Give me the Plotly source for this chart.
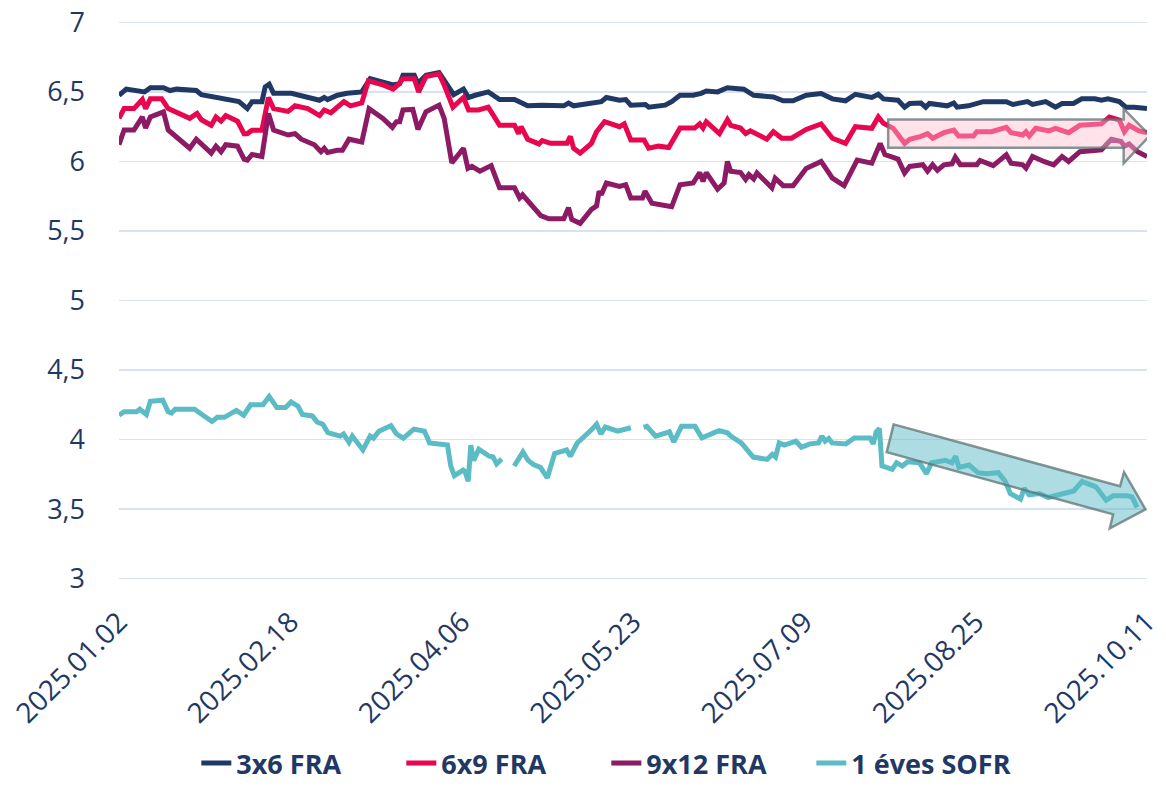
import plotly.graph_objects as go

# ---------------- data ----------------
tick_days = [0, 47, 94, 141, 188, 235, 282]
tick_labels = ["2025.01.02", "2025.02.18", "2025.04.06", "2025.05.23",
               "2025.07.09", "2025.08.25", "2025.10.11"]

# days since 2025.01.02
fra36_days = [0, 2, 7, 8.6, 12.2, 14, 15.8, 21.2, 22.6, 27.5, 31.1, 32.9, 35.2, 36.5, 39.2, 40.1,
              41.2, 42.4, 47.3, 50, 55, 56.3, 57.2, 59.9, 62.6, 66.6, 68.9, 75.2, 77, 77.9, 81, 82,
              84.2, 87.8, 89.6, 91.8, 94.5, 95.9, 97.7, 101.3, 104.4, 108.5, 112.1, 116.1, 122,
              123.3, 124.7, 129.2, 132.3, 133.7, 137.3, 139, 140.4, 144.4, 145.3, 149.8, 151.6,
              153.9, 157.5, 159.7, 161.1, 164.2, 166.9, 171.4, 174.1, 179.5, 182.2, 184.9, 188.5,
              192.6, 195.7, 199.3, 202, 206.5, 208.3, 209.7, 213.7, 215.5, 216.9, 220, 221.3,
              222.3, 227.2, 229, 229.9, 233, 237.1, 243.4, 245.2, 249.2, 250.6, 254.2, 256.9,
              258.7, 261.8, 264.1, 267.7, 269.5, 271.3, 274.4, 276.2, 278.5, 282]
fra36_vals = [6.476, 6.52, 6.50, 6.53, 6.53, 6.51, 6.52, 6.51, 6.48, 6.46, 6.445, 6.43, 6.38, 6.43,
              6.43, 6.535, 6.555, 6.49, 6.49, 6.47, 6.44, 6.46, 6.445, 6.476, 6.49, 6.50, 6.595,
              6.55, 6.56, 6.62, 6.62, 6.56, 6.62, 6.64, 6.57, 6.48, 6.52, 6.46, 6.476, 6.50, 6.445,
              6.445, 6.40, 6.405, 6.40, 6.42, 6.40, 6.42, 6.43, 6.46, 6.44, 6.445, 6.405, 6.41,
              6.39, 6.405, 6.43, 6.476, 6.476, 6.49, 6.507, 6.50, 6.53, 6.52, 6.476, 6.464, 6.436,
              6.436, 6.476, 6.488, 6.45, 6.436, 6.483, 6.46, 6.483, 6.45, 6.44, 6.39, 6.417, 6.42,
              6.39, 6.417, 6.40, 6.42, 6.39, 6.40, 6.43, 6.43, 6.41, 6.43, 6.41, 6.43, 6.39, 6.417,
              6.417, 6.45, 6.45, 6.44, 6.45, 6.43, 6.39, 6.39, 6.38]

fra69_days = [0, 1.4, 4.1, 6.4, 7.3, 8.6, 11.7, 13.5, 19.4, 21.4, 22.6, 25.3, 26.6, 28, 29.3,
              32.5, 34.3, 35.2, 36.5, 39.2, 41, 42.4, 46.4, 48.3, 51.8, 55, 56.3, 58.1, 61.7,
              63.5, 66.6, 68.4, 72.4, 75.2, 76.5, 77.9, 81, 82.2, 84.2, 87.8, 89.2, 91.6, 94.5,
              95.9, 98.6, 101.3, 104.4, 108.5, 109.6, 110.3, 112.1, 115.2, 116.1, 118.4, 122.9,
              123.8, 124.7, 126.5, 129.6, 131, 133.2, 137.3, 138.6, 140.4, 144, 145.3, 148, 150.8,
              153.9, 157.9, 159.3, 160.2, 161.1, 164.7, 166.9, 167.8, 170.5, 171.9, 173.2, 174.6,
              177.7, 179.5, 181.8, 184.5, 186.7, 188.5, 192.6, 195.7, 199.3, 202, 206.5, 208.3,
              209.7, 212.4, 215.5, 216.9, 220, 221.8, 223.2, 226.3, 229, 230.3, 234.4, 235.3,
              239.3, 243.4, 244.7, 247.9, 248.8, 249.7, 251.5, 255.1, 256.9, 260.5, 263.6, 269.5,
              271.7, 274.4, 275.8, 277.1, 279.8, 282]
fra69_vals = [6.31, 6.38, 6.38, 6.445, 6.38, 6.45, 6.45, 6.38, 6.31, 6.345, 6.30, 6.26, 6.32,
              6.29, 6.33, 6.29, 6.20, 6.20, 6.225, 6.225, 6.46, 6.38, 6.36, 6.40, 6.38, 6.33, 6.37,
              6.35, 6.43, 6.40, 6.42, 6.58, 6.55, 6.52, 6.55, 6.595, 6.595, 6.50, 6.61, 6.63, 6.55,
              6.39, 6.46, 6.37, 6.37, 6.39, 6.26, 6.26, 6.20, 6.25, 6.16, 6.126, 6.15, 6.13, 6.13,
              6.18, 6.095, 6.06, 6.13, 6.214, 6.286, 6.25, 6.27, 6.155, 6.155, 6.095, 6.11, 6.10,
              6.24, 6.24, 6.27, 6.24, 6.286, 6.20, 6.30, 6.26, 6.24, 6.20, 6.22, 6.20, 6.16, 6.214,
              6.167, 6.167, 6.20, 6.23, 6.27, 6.167, 6.13, 6.25, 6.238, 6.32, 6.274, 6.238, 6.13,
              6.16, 6.18, 6.20, 6.167, 6.207, 6.226, 6.183, 6.183, 6.214, 6.214, 6.245, 6.207,
              6.19, 6.214, 6.183, 6.238, 6.22, 6.238, 6.207, 6.26, 6.27, 6.32, 6.298, 6.214, 6.26,
              6.22, 6.207]

fra912_days = [0, 1.4, 4.1, 6.4, 7.3, 8.6, 12.2, 13.5, 19.4, 21.2, 25.3, 26.6, 28, 29.3, 32.5,
               34.3, 35.2, 36.5, 39.2, 41, 42.4, 46.4, 48.3, 50, 53.6, 55.4, 56.3, 57.2, 59.9,
               61.3, 63.1, 66.6, 68.6, 72.4, 75, 76.1, 77, 77.9, 80.6, 82, 84.2, 87.8, 89.2, 91.3,
               94.5, 95.7, 96.8, 99, 102.1, 104.4, 108.5, 109.9, 110.7, 112.1, 115.7, 117.9, 122,
               123.3, 124.2, 126.5, 129.6, 131, 131.7, 132.3, 133.7, 137.3, 139, 140.4, 143.6,
               144.3, 146.2, 151.6, 153.9, 157.5, 159.3, 160.2, 161.1, 164.2, 166, 166.9, 167.8,
               170.5, 171.9, 172.8, 174.1, 175, 179.1, 180, 182.2, 184.9, 186.3, 188.5, 192.6,
               195.7, 198.9, 202.5, 206.5, 208.8, 210.1, 213.7, 215.5, 216.9, 220.5, 221.8, 223.2,
               224.5, 226.3, 228.5, 229.4, 230.8, 235.3, 236.2, 239.8, 243.4, 244.7, 247.9, 248.8,
               250.6, 253.7, 256.4, 258.7, 260.5, 263.6, 267.7, 269.5, 272.2, 274.9, 275.8, 277.1,
               279.4, 282]
fra912_vals = [6.12, 6.226, 6.226, 6.32, 6.24, 6.32, 6.357, 6.226, 6.095, 6.16, 6.06, 6.11, 6.07,
               6.12, 6.11, 6.017, 6.01, 6.05, 6.036, 6.345, 6.226, 6.19, 6.20, 6.16, 6.12, 6.07,
               6.095, 6.064, 6.08, 6.08, 6.16, 6.14, 6.38, 6.31, 6.245, 6.286, 6.286, 6.37, 6.374,
               6.23, 6.357, 6.405, 6.31, 5.99, 6.095, 5.95, 5.964, 5.93, 5.97, 5.81, 5.81, 5.738,
               5.76, 5.714, 5.61, 5.588, 5.588, 5.667, 5.583, 5.555, 5.655, 5.68, 5.786, 5.76,
               5.845, 5.82, 5.833, 5.738, 5.738, 5.786, 5.70, 5.674, 5.833, 5.845, 5.92, 5.857,
               5.92, 5.80, 5.845, 6.00, 5.93, 5.92, 5.87, 5.905, 5.874, 5.917, 5.81, 5.88, 5.826,
               5.826, 5.88, 5.95, 6.00, 5.88, 5.826, 6.01, 5.988, 6.13, 6.05, 6.017, 5.917, 5.964,
               5.976, 5.93, 5.976, 5.936, 5.976, 5.983, 6.03, 5.976, 5.976, 6.007, 5.97, 6.048,
               5.988, 5.976, 5.952, 6.036, 6.00, 5.976, 6.036, 6.00, 6.07, 6.08, 6.083, 6.16,
               6.143, 6.11, 6.126, 6.07, 6.036]

sofr_days = [0, 1.4, 4.8, 5.7, 7.5, 8.6, 12, 13.5, 14.4, 15.4, 20.7, 22.6, 25.5, 27, 28.9, 32.2,
             34.2, 36.1, 39.5, 41.2, 43.3, 45.7, 47.2, 49.1, 50.3, 53, 54.4, 55.9, 57.3, 60.7,
             61.6, 63.1, 64, 66.9, 68.9, 69.8, 71.3, 74.6, 76.1, 78, 80.9, 83.8, 85.2, 90.1, 91,
             92, 94.4, 94.9, 95.8, 96.5, 97.3, 98.7, 101.6, 102.6, 103.6, 105, 106.5, 108.4,
             110.8, 112.2, 113.7, 115.6, 117.5, 119.5, 122.8, 123.8, 125.7, 129.6, 131, 132.2,
             133.4, 136.8, 138.7, 140.4, 142, 143.9, 144.8, 147.2, 151, 152.2, 154.3, 158, 159.9,
             164.6, 166.9, 167.9, 170.7, 174, 177.8, 179.2, 180.1, 181.1, 182.5, 185.7, 187.2,
             189.5, 191.9, 192.8, 193.7, 194.7, 195.6, 199.4, 201.7, 206, 206.9, 207.7, 208.6,
             209.3, 212.1, 213.3, 214.9, 216.3, 219.6, 221.5, 222.9, 226.7, 228.5, 229.5, 230.4,
             233.2, 235.6, 237.9, 241.2, 243.1, 244.5, 247.3, 248.3, 249.7, 252.5, 254.9, 257.7,
             261.9, 264.2, 268, 270.8, 272.7, 276.5, 277.9, 279.3]
sofr_vals = [4.175, 4.20, 4.20, 4.218, 4.18, 4.275, 4.283, 4.20, 4.19, 4.218, 4.218, 4.18, 4.13,
             4.16, 4.16, 4.21, 4.175, 4.25, 4.25, 4.31, 4.23, 4.23, 4.27, 4.24, 4.18, 4.17, 4.125,
             4.11, 4.05, 4.025, 4.04, 3.98, 4.025, 3.925, 4.025, 4.01, 4.06, 4.10, 4.04, 4.01,
             4.075, 4.06, 3.975, 3.96, 3.81, 3.74, 3.78, 3.77, 3.70, 3.96, 3.85, 3.93, 3.88,
             3.875, 3.825, 3.86, None, 3.81, 3.91, 3.85, 3.82, 3.80, 3.725, 3.90, 3.925, 3.88,
             3.975, 4.07, 4.11, 4.04, 4.09, 4.06, 4.075, 4.085, None, 4.088, 4.095, 4.024, 4.055,
             3.983, 4.095, 4.095, 4.012, 4.064, 4.048, 4.024, 3.976, 3.874, 3.857, 3.893, 3.874,
             3.976, 3.96, 3.988, 3.945, 3.969, 3.976, 4.024, 3.988, 4.007, 3.976, 3.969, 4.012,
             4.012, 3.969, 4.055, 4.079, 3.81, 3.786, 3.833, 3.81, 3.84, 3.833, 3.755, 3.833,
             3.85, 3.833, 3.88, 3.80, 3.817, 3.762, 3.755, 3.762, 3.70, 3.612, 3.571, 3.65,
             3.602, 3.612, 3.583, 3.602, 3.63, 3.698, 3.66, 3.564, 3.595, 3.595, 3.588, 3.512]

series_names = ["3x6 FRA", "6x9 FRA", "9x12 FRA", "1 éves SOFR"]

# highlight arrows (annotation outlines, in axis units)
pink_arrow_x = [211, 275.6, 275.6, 282.8, 275.6, 275.6, 211]
pink_arrow_y = [6.302, 6.302, 6.379, 6.186, 5.986, 6.098, 6.098]
teal_arrow_x = [212.5, 274.6, 275.7, 281.6, 271.8, 272.7, 210.6]
teal_arrow_y = [4.109, 3.664, 3.766, 3.498, 3.362, 3.462, 3.909]

# ---------------- styles ----------------
NAVY = "#1F3864"
colors = ["#1F3864", "#E8064E", "#8C1A64", "#5BBCC6"]
FONT = "Open Sans"

fig = go.Figure()
for name, xs, ys, c in zip(series_names,
                           [fra36_days, fra69_days, fra912_days, sofr_days],
                           [fra36_vals, fra69_vals, fra912_vals, sofr_vals],
                           colors):
    fig.add_trace(go.Scatter(x=xs, y=ys, name=name, mode="lines",
                             line=dict(color=c, width=5), connectgaps=False,
                             hoverinfo="skip"))


def path_from(xs, ys):
    pts = " L ".join(f"{x} {y}" for x, y in zip(xs, ys))
    return "M " + pts + " Z"


fig.add_shape(type="path", xref="x", yref="y", path=path_from(pink_arrow_x, pink_arrow_y),
              fillcolor="rgba(255,190,208,0.45)", line=dict(color="rgba(95,115,115,0.75)", width=2.5),
              layer="above")
fig.add_shape(type="path", xref="x", yref="y", path=path_from(teal_arrow_x, teal_arrow_y),
              fillcolor="rgba(91,188,198,0.5)", line=dict(color="rgba(95,115,115,0.75)", width=2.5),
              layer="above")

fig.update_layout(
    width=1166, height=788,
    margin=dict(l=119, r=3, t=17, b=208),
    plot_bgcolor="white", paper_bgcolor="white",
    separators=", ",
    font=dict(family=FONT, color=NAVY),
    legend=dict(orientation="h", xref="container", yref="container",
                x=0.52, xanchor="center", y=-0.02, yanchor="bottom",
                font=dict(family=FONT, size=27, color=NAVY, weight="bold"),
                entrywidth=160, entrywidthmode="pixels"),
    xaxis=dict(range=[0, 282], tickmode="array", tickvals=tick_days, ticktext=tick_labels,
               tickangle=-45, showgrid=False, zeroline=False, showline=False, ticks="",
               ticklabelstandoff=19, ticklabeloverflow="allow",
               tickfont=dict(family=FONT, size=28, color=NAVY)),
    yaxis=dict(range=[2.99, 7.01], tick0=3, dtick=0.5, showgrid=True, gridcolor="#D9E1F2",
               gridwidth=1.5, zeroline=False, showline=False, ticks="",
               ticklabelstandoff=33, ticklabeloverflow="allow",
               tickfont=dict(family=FONT, size=27, color=NAVY)),
)

fig.write_html("out.html",
               config={"displayModeBar": False, "staticPlot": True},
               post_script="document.body.style.margin='0';document.body.style.padding='0';")
